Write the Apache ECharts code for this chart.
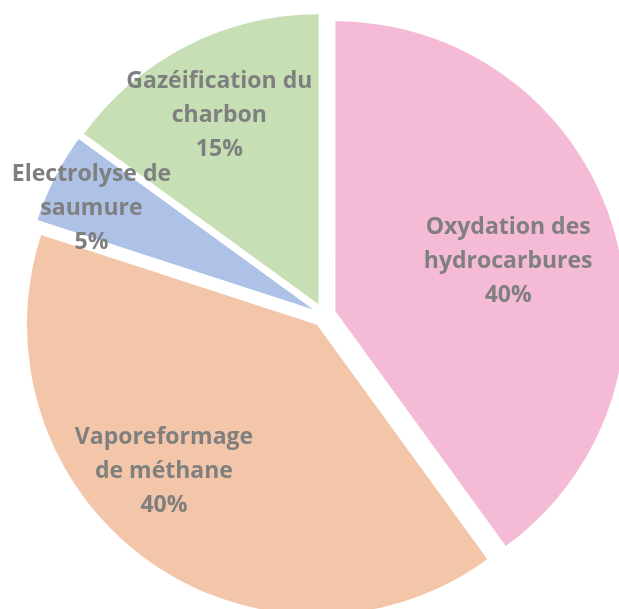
<!DOCTYPE html>
<html>
<head>
<meta charset="utf-8">
<script src="https://cdn.jsdelivr.net/npm/echarts@6/dist/echarts.min.js"></script>
<style>
  html, body { margin: 0; padding: 0; background: #fff; }
  #chart { width: 619px; height: 609px; }
</style>
</head>
<body>
<div id="chart"></div>
<script>
  // slices, clockwise from 12 o'clock
  var names = ['Oxydation des\nhydrocarbures', 'Vaporeformage\nde méthane', 'Electrolyse de\nsaumure', 'Gazéification du\ncharbon']
  var values = [40, 40, 5, 15]
  var colors = ['#F5BAD5', '#F4C6A9', '#ADC2E6', '#C6DFB4']
  // label nudges from the default inside position
  var labelShift = [[32, -4], [-66, 27], [-90, -34], [-32, -57]]

  var chart = echarts.init(document.getElementById('chart'))

  var data = []
  for (var i = 0; i < names.length; i++) {
    data.push({
      name: names[i],
      value: values[i],
      selected: true,
      itemStyle: { color: colors[i] },
      select: { itemStyle: { color: colors[i], borderWidth: 0 } }
    })
  }

  chart.setOption({
    animation: false,
    series: [{
      type: 'pie',
      center: [324, 315],
      radius: 290,
      startAngle: 90,
      clockwise: true,
      selectedMode: 'multiple',
      selectedOffset: 12,
      emphasis: { disabled: true },
      label: {
        position: 'inside',
        formatter: '{b}\n{d}%',
        color: '#7F7F7F',
        fontFamily: 'Open Sans',
        fontWeight: 'bold',
        fontSize: 23,
        lineHeight: 34,
        align: 'center'
      },
      labelLine: { show: false },
      labelLayout: function(params) {
        var s = labelShift[params.dataIndex]
        return { dx: s[0], dy: s[1] }
      },
      data: data
    }]
  })
</script>
</body>
</html>
